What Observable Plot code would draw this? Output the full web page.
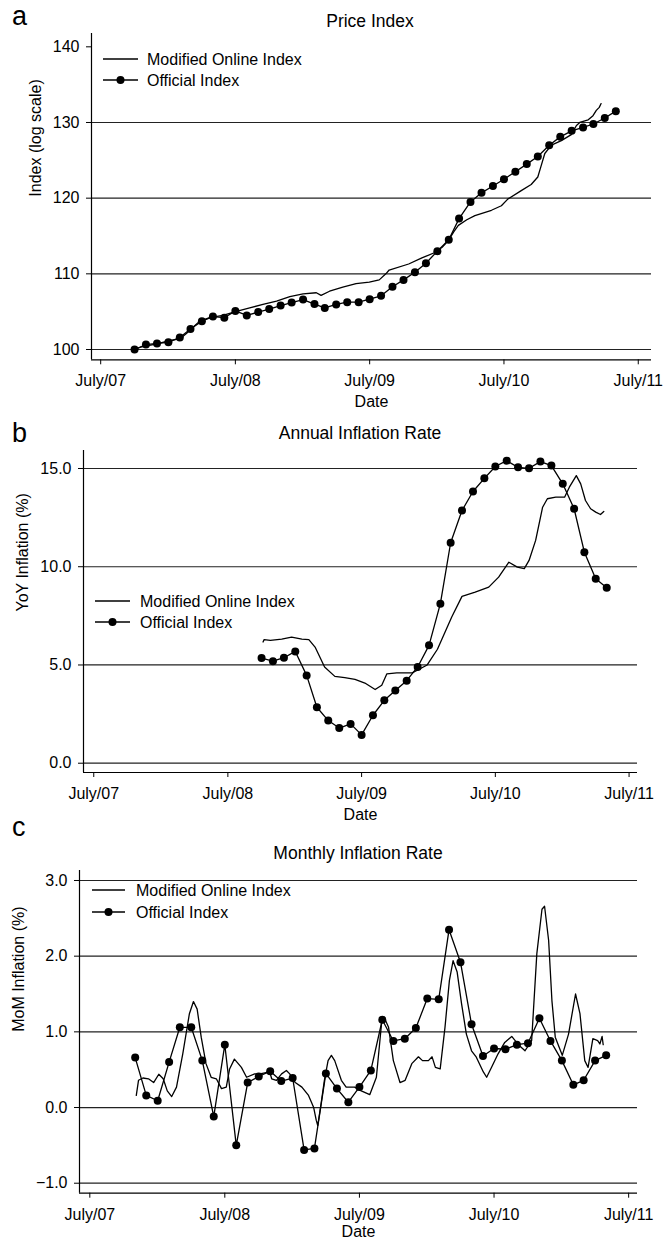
<!DOCTYPE html>
<html>
<head>
<meta charset="utf-8">
<script src="https://cdn.jsdelivr.net/npm/d3@7"></script>
<script src="https://cdn.jsdelivr.net/npm/@observablehq/plot@0.6"></script>
<style>
  body { margin: 0; background: #fff; }
  #page { position: relative; width: 664px; height: 1243px; overflow: hidden; background: #fff; }
  #page svg { position: absolute; left: 0; }
</style>
</head>
<body>
<div id="page"></div>
<script>
// ---- Monthly observations of the official index (Oct 2007 – May 2011) ----
const monthLabels = [
  "2007-10","2007-11","2007-12","2008-01","2008-02","2008-03","2008-04","2008-05","2008-06","2008-07",
  "2008-08","2008-09","2008-10","2008-11","2008-12","2009-01","2009-02","2009-03","2009-04","2009-05",
  "2009-06","2009-07","2009-08","2009-09","2009-10","2009-11","2009-12","2010-01","2010-02","2010-03",
  "2010-04","2010-05","2010-06","2010-07","2010-08","2010-09","2010-10","2010-11","2010-12","2011-01",
  "2011-02","2011-03","2011-04","2011-05"
];

// Official price index, Oct 2007 = 100
const officialIndex = [
  100.0, 100.65, 100.8, 100.95, 101.6, 102.7, 103.75, 104.35, 104.2, 105.1,
  104.5, 104.95, 105.35, 105.8, 106.2, 106.6, 106.0, 105.5, 105.95, 106.25,
  106.25, 106.65, 107.1, 108.3, 109.2, 110.2, 111.4, 113.0, 114.5, 117.3,
  119.5, 120.7, 121.6, 122.5, 123.5, 124.5, 125.5, 127.0, 128.1, 128.9,
  129.35, 129.8, 130.6, 131.5
];

// Official year-on-year inflation (%), Oct 2008 – May 2011
const officialYoY = [
  5.35, 5.19, 5.37, 5.69, 4.47, 2.85, 2.17, 1.79, 2.0, 1.44,
  2.44, 3.2, 3.7, 4.2, 4.9, 6.0, 8.12, 11.22, 12.86, 13.83,
  14.5, 15.1, 15.4, 15.06, 15.01, 15.35, 15.15, 14.22, 12.95, 10.74,
  9.39, 8.93
];

// Official month-on-month inflation (%), Nov 2007 – May 2011
const officialMoM = [
  0.66, 0.16, 0.09, 0.60, 1.06, 1.06, 0.62, -0.12, 0.83, -0.50,
  0.33, 0.41, 0.48, 0.35, 0.39, -0.56, -0.54, 0.45, 0.25, 0.07,
  0.27, 0.49, 1.16, 0.88, 0.91, 1.05, 1.44, 1.43, 2.35, 1.92,
  1.10, 0.68, 0.78, 0.77, 0.83, 0.85, 1.18, 0.88, 0.62, 0.30,
  0.36, 0.62, 0.69
];

// ---- Modified online index (daily series, sampled) ----
const onlineIndexDates = [
  "2007-10-01","2007-10-17","2007-12-01","2008-01-06","2008-02-01","2008-02-19","2008-03-08","2008-03-26",
  "2008-04-22","2008-05-28","2008-07-04","2008-08-09","2008-09-14","2008-10-21","2008-11-26","2009-01-01",
  "2009-02-06","2009-02-19","2009-03-14","2009-04-19","2009-05-25","2009-06-30","2009-07-27","2009-08-14",
  "2009-08-23","2009-10-15","2009-11-20","2009-12-27","2010-01-14","2010-01-31","2010-02-14","2010-02-27",
  "2010-03-22","2010-04-13","2010-05-28","2010-06-24","2010-07-12","2010-08-17","2010-09-13","2010-10-01",
  "2010-10-09","2010-10-20","2010-11-07","2010-12-04","2010-12-31","2011-01-14","2011-01-23","2011-02-15",
  "2011-02-28","2011-03-09","2011-03-17","2011-03-22"
];
const onlineIndexValues = [
  100.0, 100.3, 100.75, 101.2, 101.4, 102.1, 102.95, 103.75,
  104.2, 104.5, 105.05, 105.5, 105.95, 106.4, 107.0, 107.35,
  107.5, 107.15, 107.7, 108.25, 108.7, 108.9, 109.2, 110.0,
  110.5, 111.3, 112.1, 112.85, 113.5, 114.4, 115.5, 116.4,
  117.15, 117.7, 118.4, 119.0, 119.9, 121.0, 121.8, 122.8,
  124.1, 125.9, 127.0, 127.6, 128.4, 129.6, 130.0, 130.35,
  130.9, 131.6, 132.0, 132.5
];

const onlineYoYDates = [
  "2008-10-05","2008-10-08","2008-10-25","2008-11-25","2008-12-22","2009-01-19","2009-02-07","2009-02-24",
  "2009-03-22","2009-04-19","2009-05-16","2009-06-13","2009-07-10","2009-08-07","2009-08-25","2009-09-08",
  "2009-10-05","2009-11-16","2009-12-27","2010-01-24","2010-03-04","2010-04-01","2010-05-07","2010-06-13",
  "2010-07-10","2010-08-07","2010-08-30","2010-09-18","2010-10-01","2010-10-19","2010-11-07","2010-11-20",
  "2010-12-13","2011-01-06","2011-01-19","2011-02-07","2011-02-19","2011-03-04","2011-03-18","2011-04-01",
  "2011-04-14","2011-04-23"
];
const onlineYoYValues = [
  6.17, 6.29, 6.25, 6.32, 6.42, 6.32, 6.29, 5.91,
  4.9, 4.42, 4.36, 4.27, 4.08, 3.75, 3.97, 4.55,
  4.6, 4.6, 5.0, 5.8, 7.44, 8.49, 8.71, 8.96,
  9.47, 10.23, 9.98, 9.9, 10.32, 11.34, 13.03, 13.46,
  13.54, 13.54, 14.05, 14.64, 14.22, 13.37, 12.95, 12.78,
  12.66, 12.81
];

const onlineMoMDates = [
  "2007-11-04","2007-11-10","2007-11-22","2007-12-07","2007-12-21","2008-01-04","2008-01-16","2008-01-27",
  "2008-02-08","2008-02-21","2008-03-09","2008-03-27","2008-04-07","2008-04-17","2008-04-28","2008-05-11",
  "2008-05-25","2008-06-08","2008-06-22","2008-07-05","2008-07-14","2008-07-27","2008-08-15","2008-08-29",
  "2008-09-20","2008-10-04","2008-10-31","2008-11-05","2008-11-18","2008-12-02","2008-12-15","2008-12-24",
  "2009-01-08","2009-01-26","2009-02-13","2009-02-27","2009-03-06","2009-03-10","2009-03-19","2009-03-28",
  "2009-04-07","2009-04-16","2009-04-25","2009-05-13","2009-05-26","2009-06-18","2009-07-06","2009-07-29",
  "2009-08-16","2009-08-30","2009-09-08","2009-09-18","2009-10-01","2009-10-19","2009-11-02","2009-11-20",
  "2009-12-08","2009-12-19","2010-01-04","2010-01-14","2010-01-23","2010-02-05","2010-02-18","2010-03-02",
  "2010-03-12","2010-03-23","2010-04-04","2010-04-17","2010-05-01","2010-05-14","2010-06-02","2010-06-11",
  "2010-06-24","2010-07-12","2010-07-30","2010-08-18","2010-09-05","2010-09-23","2010-10-11","2010-10-25",
  "2010-11-08","2010-11-15","2010-11-26","2010-12-05","2010-12-14","2011-01-02","2011-01-19","2011-02-07",
  "2011-02-19","2011-03-04","2011-03-13","2011-03-26","2011-04-08","2011-04-14","2011-04-20","2011-04-23"
];
const onlineMoMValues = [
  0.16, 0.36, 0.39, 0.38, 0.33, 0.44, 0.38, 0.22,
  0.145, 0.27, 0.71, 1.24, 1.40, 1.30, 0.93, 0.58,
  0.40, 0.38, 0.25, 0.27, 0.51, 0.64, 0.53, 0.40,
  0.445, 0.445, 0.47, 0.38, 0.36, 0.445, 0.49, 0.445,
  0.33, 0.27, 0.16, 0.0, -0.17, -0.24, 0.05, 0.36,
  0.62, 0.69, 0.62, 0.36, 0.27, 0.27, 0.22, 0.17,
  0.40, 1.11, 1.17, 1.06, 0.62, 0.33, 0.36, 0.58,
  0.67, 0.62, 0.62, 0.67, 0.53, 0.51, 1.06, 1.68,
  1.94, 1.79, 1.37, 0.97, 0.75, 0.665, 0.47, 0.40,
  0.53, 0.71, 0.86, 0.94, 0.83, 0.75, 0.885, 2.03,
  2.62, 2.66, 2.21, 1.41, 0.93, 0.69, 0.97, 1.50,
  1.24, 0.62, 0.53, 0.91, 0.885, 0.84, 0.94, 0.83
];

// ---- Axis ticks ----
const xTickDates = ["2007-07-01","2008-07-01","2009-07-01","2010-07-01","2011-07-01"];
const indexTicks = [100, 110, 120, 130, 140];
const indexGrid = [100, 110, 120, 130];
const yoyTicks = [0, 5, 10, 15];
const momTicks = [-1, 0, 1, 2, 3];

const seriesNames = ["Modified Online Index", "Official Index"];

// ---- Build tables ----
const parseDay = d3.utcParse("%Y-%m-%d");
const parseMonth = d3.utcParse("%Y-%m");
const rows = (dates, values, parse) => dates.map((d, i) => ({date: parse(d), value: values[i]}));

const officialIndexRows = rows(monthLabels, officialIndex, parseMonth);
const officialYoYRows = rows(monthLabels.slice(12), officialYoY, parseMonth);
const officialMoMRows = rows(monthLabels.slice(1), officialMoM, parseMonth);
const onlineIndexRows = rows(onlineIndexDates, onlineIndexValues, parseDay);
const onlineYoYRows = rows(onlineYoYDates, onlineYoYValues, parseDay);
const onlineMoMRows = rows(onlineMoMDates, onlineMoMValues, parseDay);

const FONT = '"Liberation Sans", Arial, Helvetica, sans-serif';
const page = document.getElementById("page");
const julyFormat = d => "July/" + String(d.getUTCFullYear()).slice(-2);
const oneDecimal = d3.format(".1f");

function panel(cfg) {
  const xDomain = cfg.xDomain.map(parseDay);
  const chart = Plot.plot({
    width: 664,
    height: cfg.height,
    marginTop: cfg.margin[0],
    marginRight: cfg.margin[1],
    marginBottom: cfg.margin[2],
    marginLeft: cfg.margin[3],
    style: {fontFamily: FONT, fontSize: "16px", color: "#000", background: "none", overflow: "visible"},
    x: {type: "utc", domain: xDomain, ticks: xTickDates.map(parseDay), tickFormat: julyFormat,
        tickSize: 5, tickPadding: 10, label: null},
    y: {domain: cfg.yDomain, ticks: cfg.yTicks, tickFormat: cfg.yFormat, tickSize: 5, tickPadding: 7, label: null},
    marks: [
      Plot.ruleY(cfg.grid, {stroke: "#222", strokeWidth: 1.2}),
      Plot.ruleX([xDomain[0]], {stroke: "#000", strokeWidth: 1.2}),
      Plot.ruleY([cfg.yDomain[0]], {stroke: "#000", strokeWidth: 1.2}),
      Plot.line(cfg.online, {x: "date", y: "value", stroke: "#000", strokeWidth: 1.3}),
      Plot.line(cfg.official, {x: "date", y: "value", stroke: "#000", strokeWidth: 1.3}),
      Plot.dot(cfg.official, {x: "date", y: "value", r: 4, fill: "#000", stroke: "none"}),
      Plot.text([cfg.yLabel], {frameAnchor: "left", dx: cfg.yLabelDx, rotate: -90}),
      Plot.text(["Date"], {frameAnchor: "bottom", dy: cfg.dateDy})
    ]
  });
  chart.style.top = cfg.top + "px";
  page.appendChild(chart);
}

panel({
  top: 0, height: 415, margin: [33, 13, 55.7, 91],
  xDomain: ["2007-06-06", "2011-08-06"], yDomain: [98.64, 141.76],
  yTicks: indexTicks, grid: indexGrid, yFormat: d => String(d),
  yLabel: "Index (log scale)", yLabelDx: -56, dateDy: 47,
  online: onlineIndexRows, official: officialIndexRows
});
panel({
  top: 415, height: 420, margin: [35, 27, 63, 83],
  xDomain: ["2007-06-03", "2011-07-24"], yDomain: [-0.473, 15.916],
  yTicks: yoyTicks, grid: yoyTicks, yFormat: oneDecimal,
  yLabel: "YoY Inflation (%)", yLabelDx: -61, dateDy: 47,
  online: onlineYoYRows, official: officialYoYRows
});
panel({
  top: 835, height: 408, margin: [35, 27, 50.3, 79],
  xDomain: ["2007-06-03", "2011-07-25"], yDomain: [-1.132, 3.132],
  yTicks: momTicks, grid: momTicks, yFormat: oneDecimal,
  yLabel: "MoM Inflation (%)", yLabelDx: -61, dateDy: 44,
  online: onlineMoMRows, official: officialMoMRows
});

// ---- Panel letters, titles and legends ----
const overlay = d3.select(page).append("svg")
  .attr("width", 664).attr("height", 1243)
  .style("top", "0px")
  .style("font-family", FONT);

const headers = [
  {letter: "a", letterY: 25, title: "Price Index", titleX: 370, titleY: 21},
  {letter: "b", letterY: 442, title: "Annual Inflation Rate", titleX: 360, titleY: 433},
  {letter: "c", letterY: 836, title: "Monthly Inflation Rate", titleX: 358, titleY: 853}
];
for (const h of headers) {
  overlay.append("text").attr("x", 12).attr("y", h.letterY)
    .attr("font-size", 27).text(h.letter);
  overlay.append("text").attr("x", h.titleX).attr("y", h.titleY).attr("dy", "0.35em")
    .attr("text-anchor", "middle").attr("font-size", 17.5).text(h.title);
}

const legends = [
  {x0: 103, x1: 138, tx: 147, y: [59, 80]},
  {x0: 95, x1: 130, tx: 140, y: [601, 622]},
  {x0: 92, x1: 125, tx: 136, y: [890, 912]}
];
for (const L of legends) {
  seriesNames.forEach((name, i) => {
    const g = overlay.append("g");
    g.append("line").attr("x1", L.x0).attr("x2", L.x1).attr("y1", L.y[i]).attr("y2", L.y[i])
      .attr("stroke", "#000").attr("stroke-width", 1.3);
    if (i === 1) g.append("circle").attr("cx", (L.x0 + L.x1) / 2).attr("cy", L.y[i]).attr("r", 4).attr("fill", "#000");
    g.append("text").attr("x", L.tx).attr("y", L.y[i]).attr("dy", "0.35em")
      .attr("font-size", 16).text(name);
  });
}
</script>
</body>
</html>
